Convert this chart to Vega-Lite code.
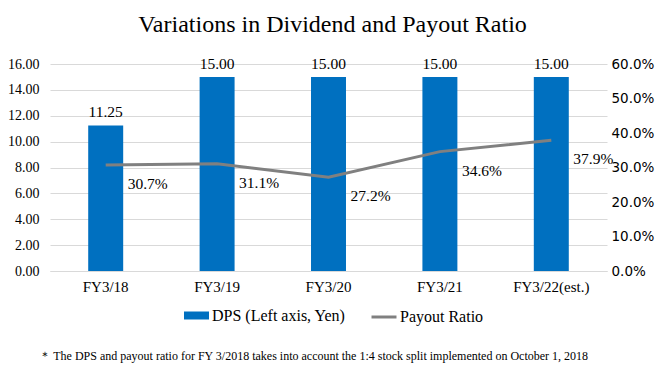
{
  "$schema": "https://vega.github.io/schema/vega-lite/v6.json",
  "width": 557,
  "height": 207,
  "autosize": "none",
  "padding": {"left": 50, "top": 64, "right": 61, "bottom": 112},
  "background": "white",
  "title": {
    "text": "Variations in Dividend and Payout Ratio",
    "font": "Liberation Serif, Times New Roman, serif",
    "fontSize": 24,
    "fontWeight": "normal",
    "color": "#000000",
    "anchor": "middle",
    "offset": 20,
    "dx": 4
  },
  "data": {
    "values": [
      {"fy": "FY3/18", "dps": 11.25, "ratio": 0.307},
      {"fy": "FY3/19", "dps": 15.0, "ratio": 0.311},
      {"fy": "FY3/20", "dps": 15.0, "ratio": 0.272},
      {"fy": "FY3/21", "dps": 15.0, "ratio": 0.346},
      {"fy": "FY3/22(est.)", "dps": 15.0, "ratio": 0.379}
    ]
  },
  "encoding": {
    "x": {
      "field": "fy",
      "type": "nominal",
      "sort": null,
      "scale": {"paddingInner": 0.686, "paddingOuter": 0.343},
      "axis": {
        "title": "＊ The DPS and payout ratio for FY 3/2018 takes into account the 1:4 stock split implemented on October 1, 2018",
        "titleFont": "Liberation Serif, Times New Roman, serif",
        "titleFontSize": 12,
        "titleFontWeight": "normal",
        "titleColor": "#000000",
        "titleAnchor": "start",
        "titleAlign": "left",
        "titleBaseline": "middle",
        "titleX": -12,
        "titleY": 84,
        "labelAngle": 0,
        "labelFont": "Liberation Serif, Times New Roman, serif",
        "labelFontSize": 15,
        "labelColor": "#000000",
        "labelPadding": 8,
        "ticks": false,
        "domain": true,
        "domainColor": "#D9D9D9",
        "grid": false
      }
    }
  },
  "layer": [
    {
      "mark": {"type": "bar", "color": "#0070C0"},
      "encoding": {
        "y": {
          "field": "dps",
          "type": "quantitative",
          "scale": {"domain": [0, 16], "nice": false},
          "axis": {
            "title": null,
            "values": [0, 2, 4, 6, 8, 10, 12, 14, 16],
            "format": ".2f",
            "labelFont": "Liberation Serif, Times New Roman, serif",
            "labelFontSize": 14,
            "labelColor": "#000000",
            "labelPadding": 11,
            "ticks": false,
            "domain": false,
            "grid": true,
            "gridColor": "#D9D9D9"
          }
        },
        "fill": {
          "datum": "DPS (Left axis, Yen)",
          "scale": {"range": ["#0070C0"]},
          "legend": {
            "orient": "none",
            "legendX": 134,
            "legendY": 239,
            "title": null,
            "padding": 0,
            "symbolType": "M-1,-0.32L1,-0.32L1,0.32L-1,0.32Z",
            "symbolSize": 625,
            "symbolStrokeWidth": 0,
            "labelFont": "Liberation Serif, Times New Roman, serif",
            "labelFontSize": 16,
            "labelColor": "#000000",
            "labelOffset": 3
          }
        }
      }
    },
    {
      "mark": {"type": "text", "font": "Liberation Serif, Times New Roman, serif", "fontSize": 15.5, "color": "#000000", "baseline": "middle", "dy": -13},
      "encoding": {
        "y": {"field": "dps", "type": "quantitative", "scale": {"domain": [0, 16], "nice": false}, "axis": null},
        "text": {"field": "dps", "type": "quantitative", "format": ".2f"}
      }
    },
    {
      "mark": {"type": "line", "strokeWidth": 3, "color": "#808080"},
      "encoding": {
        "y": {
          "field": "ratio",
          "type": "quantitative",
          "scale": {"domain": [0, 0.6], "nice": false},
          "axis": {
            "orient": "right",
            "title": null,
            "values": [0, 0.1, 0.2, 0.3, 0.4, 0.5, 0.6],
            "format": ".1%",
            "labelFont": "DejaVu Sans",
            "labelFontSize": 13.5,
            "labelColor": "#000000",
            "labelPadding": 4,
            "ticks": false,
            "domain": false,
            "grid": false
          }
        },
        "stroke": {
          "datum": "Payout Ratio",
          "scale": {"range": ["#808080"]},
          "legend": {
            "orient": "none",
            "legendX": 320,
            "legendY": 239,
            "title": null,
            "padding": 0,
            "symbolType": "stroke",
            "symbolSize": 625,
            "symbolStrokeWidth": 3,
            "labelFont": "Liberation Serif, Times New Roman, serif",
            "labelFontSize": 16,
            "labelColor": "#000000",
            "labelOffset": 2
          }
        }
      }
    },
    {
      "mark": {"type": "text", "font": "Liberation Serif, Times New Roman, serif", "fontSize": 15.5, "color": "#000000", "align": "left", "baseline": "middle", "dx": 22, "dy": 19},
      "encoding": {
        "y": {"field": "ratio", "type": "quantitative", "scale": {"domain": [0, 0.6], "nice": false}, "axis": null},
        "text": {"field": "ratio", "type": "quantitative", "format": ".1%"}
      }
    }
  ],
  "resolve": {"scale": {"y": "independent", "fill": "independent", "stroke": "independent"}},
  "config": {"view": {"stroke": null}}
}
